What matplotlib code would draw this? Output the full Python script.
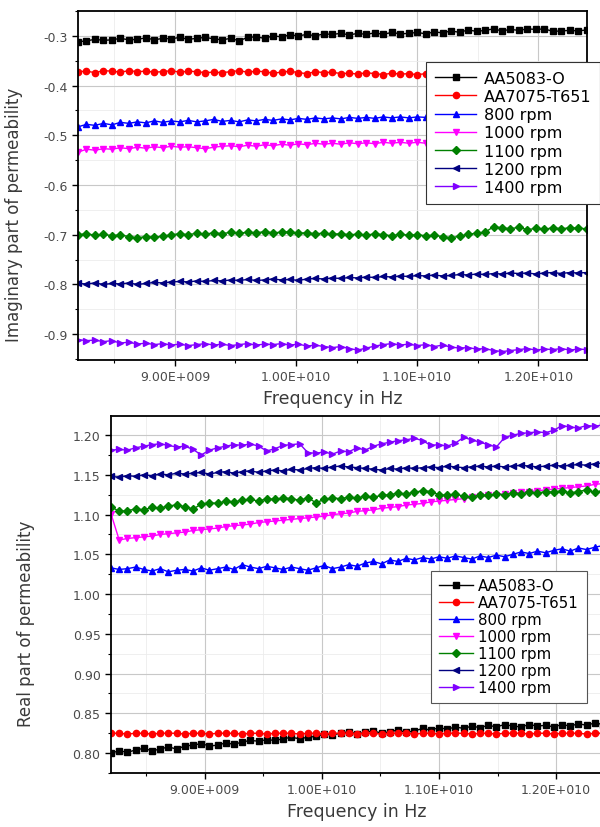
import matplotlib
matplotlib.use('Agg')
import matplotlib.pyplot as plt
from matplotlib.ticker import MultipleLocator
import numpy as np

plt.rcParams['font.family'] = ['DejaVu Sans']

# frequency sweep, 61 points over the X band
freq = np.linspace(8.2e9, 12.4e9, 61)

labels = ['AA5083-O', 'AA7075-T651', '800 rpm', '1000 rpm', '1100 rpm', '1200 rpm', '1400 rpm']
colors = ['#000000', '#ff0000', '#0000ff', '#ff00ff', '#008000', '#000080', '#8000ff']
markers = ['s', 'o', '^', 'v', 'D', '<', '>']

# imaginary part (top panel)
im_5083 = [-0.312, -0.310, -0.307, -0.309, -0.308, -0.305, -0.308, -0.307, -0.304, -0.308,
           -0.305, -0.306, -0.303, -0.307, -0.305, -0.303, -0.306, -0.308, -0.305, -0.310,
           -0.303, -0.302, -0.305, -0.300, -0.302, -0.298, -0.300, -0.297, -0.300, -0.296,
           -0.297, -0.295, -0.298, -0.295, -0.297, -0.294, -0.297, -0.293, -0.296, -0.295,
           -0.293, -0.296, -0.292, -0.294, -0.290, -0.293, -0.288, -0.291, -0.289, -0.286,
           -0.290, -0.287, -0.289, -0.286, -0.287, -0.286, -0.291, -0.290, -0.289, -0.290, -0.288]
im_7075 = [-0.372, -0.371, -0.374, -0.370, -0.371, -0.373, -0.370, -0.372, -0.371, -0.373,
           -0.372, -0.370, -0.373, -0.371, -0.372, -0.374, -0.373, -0.374, -0.372, -0.370,
           -0.373, -0.371, -0.372, -0.375, -0.373, -0.371, -0.374, -0.376, -0.372, -0.374,
           -0.373, -0.376, -0.375, -0.377, -0.374, -0.376, -0.378, -0.375, -0.377, -0.376,
           -0.378, -0.376, -0.377, -0.375, -0.377, -0.376, -0.378, -0.376, -0.377, -0.375,
           -0.377, -0.376, -0.378, -0.376, -0.375, -0.377, -0.376, -0.378, -0.376, -0.377, -0.376]
im_800 = [-0.483, -0.478, -0.480, -0.476, -0.479, -0.474, -0.476, -0.473, -0.475, -0.471,
          -0.474, -0.471, -0.473, -0.470, -0.473, -0.471, -0.468, -0.472, -0.470, -0.473,
          -0.469, -0.471, -0.468, -0.470, -0.467, -0.469, -0.466, -0.468, -0.465, -0.467,
          -0.465, -0.467, -0.464, -0.466, -0.464, -0.466, -0.463, -0.465, -0.463, -0.465,
          -0.463, -0.464, -0.462, -0.464, -0.462, -0.463, -0.461, -0.463, -0.461, -0.462,
          -0.461, -0.463, -0.461, -0.462, -0.460, -0.462, -0.460, -0.461, -0.460, -0.461, -0.460]
im_1000 = [-0.534, -0.528, -0.530, -0.527, -0.528, -0.525, -0.527, -0.524, -0.526, -0.523,
           -0.525, -0.522, -0.524, -0.523, -0.525, -0.527, -0.524, -0.522, -0.521, -0.523,
           -0.520, -0.522, -0.519, -0.521, -0.518, -0.520, -0.517, -0.519, -0.516, -0.518,
           -0.516, -0.518, -0.515, -0.517, -0.515, -0.517, -0.514, -0.516, -0.514, -0.516,
           -0.514, -0.516, -0.514, -0.515, -0.513, -0.515, -0.513, -0.514, -0.512, -0.514,
           -0.513, -0.514, -0.512, -0.513, -0.512, -0.514, -0.512, -0.513, -0.511, -0.513, -0.512]
im_1100 = [-0.700, -0.698, -0.701, -0.699, -0.702, -0.700, -0.704, -0.706, -0.704, -0.705,
           -0.703, -0.700, -0.698, -0.700, -0.697, -0.699, -0.696, -0.698, -0.695, -0.697,
           -0.695, -0.696, -0.694, -0.696, -0.695, -0.694, -0.697, -0.696, -0.698, -0.697,
           -0.699, -0.698, -0.700, -0.699, -0.701, -0.698, -0.700, -0.702, -0.699, -0.701,
           -0.700, -0.702, -0.701, -0.704, -0.706, -0.703, -0.699, -0.697, -0.695, -0.684,
           -0.686, -0.688, -0.685, -0.690, -0.687, -0.689, -0.686, -0.688, -0.686, -0.687, -0.688]
im_1200 = [-0.798, -0.799, -0.797, -0.800, -0.798, -0.799, -0.797, -0.800, -0.798, -0.796,
           -0.797, -0.795, -0.794, -0.795, -0.793, -0.794, -0.792, -0.793, -0.791, -0.792,
           -0.790, -0.792, -0.791, -0.789, -0.791, -0.790, -0.792, -0.789, -0.788, -0.789,
           -0.787, -0.788, -0.786, -0.787, -0.785, -0.786, -0.784, -0.785, -0.783, -0.784,
           -0.782, -0.783, -0.781, -0.783, -0.782, -0.780, -0.781, -0.779, -0.780, -0.778,
           -0.779, -0.777, -0.778, -0.777, -0.779, -0.777, -0.776, -0.778, -0.776, -0.777, -0.776]
im_1400 = [-0.911, -0.913, -0.912, -0.915, -0.913, -0.918, -0.916, -0.920, -0.918, -0.921,
           -0.919, -0.922, -0.920, -0.923, -0.921, -0.919, -0.922, -0.920, -0.923, -0.921,
           -0.919, -0.922, -0.920, -0.921, -0.919, -0.922, -0.920, -0.924, -0.922, -0.925,
           -0.927, -0.925, -0.929, -0.932, -0.928, -0.924, -0.921, -0.919, -0.922, -0.920,
           -0.923, -0.921, -0.925, -0.922, -0.926, -0.928, -0.927, -0.930, -0.929, -0.933,
           -0.935, -0.933, -0.931, -0.929, -0.932, -0.930, -0.931, -0.929, -0.932, -0.930, -0.931]

# real part (bottom panel)
re_5083 = [0.800, 0.803, 0.801, 0.804, 0.806, 0.803, 0.805, 0.808, 0.805, 0.809,
           0.810, 0.812, 0.809, 0.810, 0.813, 0.811, 0.814, 0.816, 0.815, 0.817,
           0.816, 0.818, 0.820, 0.818, 0.820, 0.821, 0.824, 0.823, 0.825, 0.827,
           0.824, 0.826, 0.828, 0.825, 0.827, 0.829, 0.826, 0.828, 0.831, 0.829,
           0.832, 0.830, 0.833, 0.831, 0.834, 0.832, 0.835, 0.833, 0.836, 0.834,
           0.833, 0.836, 0.834, 0.835, 0.833, 0.836, 0.834, 0.837, 0.835, 0.838, 0.836]
re_7075 = [0.825, 0.825, 0.824, 0.825, 0.825, 0.824, 0.825, 0.825, 0.825, 0.824,
           0.825, 0.825, 0.824, 0.825, 0.825, 0.825, 0.824, 0.825, 0.825, 0.824,
           0.825, 0.825, 0.825, 0.824, 0.825, 0.825, 0.824, 0.825, 0.825, 0.825,
           0.824, 0.825, 0.825, 0.824, 0.825, 0.825, 0.825, 0.824, 0.825, 0.825,
           0.824, 0.825, 0.825, 0.825, 0.824, 0.825, 0.825, 0.824, 0.825, 0.825,
           0.825, 0.824, 0.825, 0.825, 0.824, 0.825, 0.825, 0.825, 0.824, 0.825, 0.825]
re_800 = [1.033, 1.031, 1.032, 1.034, 1.031, 1.029, 1.032, 1.028, 1.030, 1.031,
          1.029, 1.033, 1.030, 1.032, 1.034, 1.031, 1.037, 1.034, 1.032, 1.035,
          1.033, 1.031, 1.034, 1.032, 1.030, 1.033, 1.036, 1.032, 1.034, 1.037,
          1.035, 1.039, 1.041, 1.038, 1.043, 1.041, 1.045, 1.043, 1.046, 1.044,
          1.047, 1.045, 1.048, 1.046, 1.044, 1.048, 1.046, 1.049, 1.047, 1.050,
          1.053, 1.051, 1.054, 1.052, 1.055, 1.057, 1.054, 1.058, 1.056, 1.059, 1.061]
re_1000 = [1.101, 1.068, 1.070, 1.071, 1.072, 1.073, 1.075, 1.076, 1.077, 1.078,
           1.080, 1.081, 1.082, 1.083, 1.085, 1.086, 1.087, 1.088, 1.090, 1.091,
           1.092, 1.093, 1.094, 1.095, 1.096, 1.097, 1.098, 1.100, 1.101, 1.102,
           1.104, 1.105, 1.106, 1.108, 1.109, 1.110, 1.112, 1.113, 1.114, 1.116,
           1.117, 1.118, 1.119, 1.120, 1.122, 1.123, 1.124, 1.125, 1.126, 1.127,
           1.128, 1.129, 1.130, 1.131, 1.132, 1.133, 1.134, 1.135, 1.136, 1.138, 1.139]
re_1100 = [1.110, 1.104, 1.105, 1.107, 1.106, 1.109, 1.108, 1.111, 1.112, 1.110,
           1.107, 1.113, 1.115, 1.114, 1.117, 1.116, 1.118, 1.119, 1.117, 1.120,
           1.119, 1.121, 1.120, 1.118, 1.121, 1.115, 1.119, 1.121, 1.120, 1.122,
           1.121, 1.123, 1.122, 1.124, 1.125, 1.127, 1.126, 1.128, 1.130, 1.129,
           1.125, 1.124, 1.126, 1.123, 1.122, 1.125, 1.124, 1.126, 1.125, 1.127,
           1.126, 1.128, 1.127, 1.129, 1.128, 1.130, 1.127, 1.129, 1.131, 1.128, 1.130]
re_1200 = [1.148, 1.147, 1.149, 1.148, 1.150, 1.149, 1.151, 1.150, 1.152, 1.151,
           1.152, 1.153, 1.151, 1.153, 1.154, 1.152, 1.154, 1.155, 1.153, 1.155,
           1.156, 1.155, 1.157, 1.156, 1.158, 1.159, 1.158, 1.160, 1.161, 1.160,
           1.159, 1.158, 1.157, 1.156, 1.158, 1.157, 1.159, 1.158, 1.159, 1.160,
           1.159, 1.161, 1.160, 1.159, 1.160, 1.161, 1.160, 1.161, 1.160, 1.161,
           1.162, 1.161, 1.160, 1.161, 1.162, 1.161, 1.162, 1.163, 1.162, 1.164, 1.165]
re_1400 = [1.181, 1.182, 1.181, 1.184, 1.186, 1.188, 1.189, 1.187, 1.185, 1.186,
           1.182, 1.175, 1.181, 1.184, 1.186, 1.188, 1.187, 1.189, 1.186, 1.180,
           1.183, 1.187, 1.188, 1.189, 1.178, 1.177, 1.179, 1.176, 1.180, 1.179,
           1.184, 1.181, 1.186, 1.189, 1.191, 1.193, 1.194, 1.196, 1.193, 1.187,
           1.188, 1.186, 1.190, 1.197, 1.194, 1.191, 1.188, 1.185, 1.197, 1.200,
           1.202, 1.203, 1.204, 1.203, 1.206, 1.212, 1.210, 1.209, 1.212, 1.211, 1.213]

imag_series = [im_5083, im_7075, im_800, im_1000, im_1100, im_1200, im_1400]
real_series = [re_5083, re_7075, re_800, re_1000, re_1100, re_1200, re_1400]

xticks = [9.0e9, 1.0e10, 1.1e10, 1.2e10]
xticklabels = ['9.00E+009', '1.00E+010', '1.10E+010', '1.20E+010']
im_yticks = [-0.9, -0.8, -0.7, -0.6, -0.5, -0.4, -0.3]
re_yticks = [0.80, 0.85, 0.90, 0.95, 1.00, 1.05, 1.10, 1.15, 1.20]

txt = '#4a4a4a'

fig = plt.figure(figsize=(6, 8.28), dpi=100)
ax1 = fig.add_axes([0.13, 0.564, 0.848, 0.4215])
ax2 = fig.add_axes([0.185, 0.0652, 0.82, 0.4312])


def style(ax, yticks, yfmt):
    ax.set_xlim(8.2e9, 12.4e9)
    ax.set_xticks(xticks)
    ax.set_xticklabels(xticklabels)
    ax.xaxis.set_minor_locator(MultipleLocator(0.5e9))
    ax.set_yticks(yticks)
    ax.set_yticklabels([yfmt.format(v) for v in yticks])
    ax.grid(which='major', color='#c8c8c8', lw=0.8, zorder=0)
    ax.grid(which='minor', color='#ececec', lw=0.6, zorder=0)
    ax.set_axisbelow(True)
    ax.tick_params(which='major', direction='out', length=4, width=1, labelsize=9, labelcolor=txt)
    ax.tick_params(which='minor', direction='out', length=2.5, width=0.8)
    for sp in ax.spines.values():
        sp.set_linewidth(1.3)
    ax.set_xlabel('Frequency in Hz', fontsize=12.5, color='#3a3a3a', labelpad=4)


for vals, lab, c, m in zip(imag_series, labels, colors, markers):
    ax1.plot(freq, vals, color=c, marker=m, ms=4.5, lw=1, label=lab)
style(ax1, im_yticks, '{:.1f}')
ax1.yaxis.set_minor_locator(MultipleLocator(0.05))
ax1.set_ylim(-0.952, -0.25)
ax1.set_ylabel('Imaginary part of permeability', fontsize=12, color='#3a3a3a')
ax1.yaxis.set_label_coords(-0.108, 0.42)
leg1 = ax1.legend(loc='upper left', bbox_to_anchor=(426 / 600, 1 - 63 / 828),
                  bbox_transform=fig.transFigure, fontsize=11.5, frameon=True, fancybox=False,
                  edgecolor='#333333', framealpha=1, handlelength=2.6, handletextpad=0.45,
                  labelspacing=0.2, borderpad=0.55, borderaxespad=0)
leg1.get_frame().set_linewidth(0.8)

for vals, lab, c, m in zip(real_series, labels, colors, markers):
    ax2.plot(freq, vals, color=c, marker=m, ms=4.5, lw=1, label=lab)
style(ax2, re_yticks, '{:.2f}')
ax2.yaxis.set_minor_locator(MultipleLocator(0.025))
ax2.set_ylim(0.775, 1.224)
ax2.set_ylabel('Real part of permeability', fontsize=12, color='#3a3a3a')
ax2.yaxis.set_label_coords(-0.154, 0.42)
leg2 = ax2.legend(loc='upper left', bbox_to_anchor=(431 / 600, 1 - 572 / 828),
                  bbox_transform=fig.transFigure, fontsize=10.8, frameon=True, fancybox=False,
                  edgecolor='#555555', framealpha=1, handlelength=2.3, handletextpad=0.35,
                  labelspacing=0.13, borderpad=0.5, borderaxespad=0)
leg2.get_frame().set_linewidth(0.8)

fig.savefig('out.png', dpi=100)
